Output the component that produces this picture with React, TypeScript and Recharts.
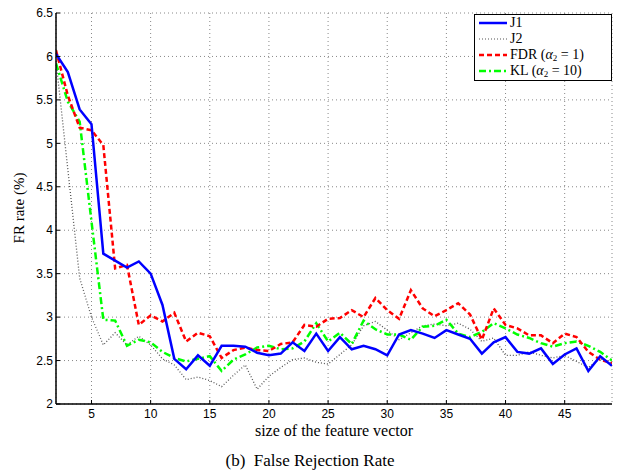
import { LineChart, Line, XAxis, YAxis, CartesianGrid } from 'recharts';

const featureSizes = [
  2, 3, 4, 5, 6, 7, 8, 9, 10, 11, 12, 13, 14, 15, 16, 17, 18, 19, 20, 21, 22, 23, 24, 25,
  26, 27, 28, 29, 30, 31, 32, 33, 34, 35, 36, 37, 38, 39, 40, 41, 42, 43, 44, 45, 46, 47, 48, 49,
];

const j1 = [
  6.03, 5.82, 5.39, 5.22, 3.73, 3.65, 3.57, 3.64, 3.5, 3.14, 2.52, 2.4, 2.56, 2.44, 2.67, 2.67,
  2.66, 2.59, 2.56, 2.58, 2.71, 2.61, 2.81, 2.61, 2.77, 2.63, 2.67, 2.63, 2.56, 2.8, 2.85, 2.81,
  2.76, 2.85, 2.8, 2.75, 2.58, 2.71, 2.77, 2.6, 2.58, 2.64, 2.46, 2.57, 2.64, 2.38, 2.55, 2.44,
];

const j2 = [
  5.95, 4.7, 3.45, 3.0, 2.68, 2.82, 2.68, 2.78, 2.68, 2.52, 2.45, 2.28, 2.31, 2.27, 2.2, 2.33,
  2.45, 2.17, 2.32, 2.42, 2.51, 2.53, 2.48, 2.46, 2.57, 2.68, 2.9, 2.95, 2.85, 2.74, 2.82, 2.9,
  2.92, 2.9, 2.93, 2.86, 2.72, 2.76, 2.56, 2.56, 2.6, 2.56, 2.53, 2.56, 2.49, 2.42, 2.52, 2.47,
];

const fdr = [
  6.07, 5.55, 5.18, 5.15, 4.98, 3.56, 3.6, 2.91, 3.02, 2.95, 3.05, 2.72, 2.82, 2.78, 2.53, 2.62,
  2.65, 2.62, 2.61, 2.69, 2.71, 2.91, 2.89, 2.98, 2.99, 3.08, 3.0, 3.22, 3.08, 2.98, 3.31, 3.1,
  3.01, 3.08, 3.16, 3.03, 2.74, 3.1, 2.91, 2.87, 2.79, 2.79, 2.7, 2.81, 2.77, 2.6, 2.51, 2.47,
];

const kl = [
  5.92, 5.48, 5.25, 4.1, 2.97, 2.96, 2.67, 2.74, 2.71, 2.6, 2.53, 2.49, 2.52, 2.55, 2.38, 2.51,
  2.57, 2.65, 2.67, 2.63, 2.64, 2.72, 2.93, 2.72, 2.82, 2.69, 2.96, 2.86, 2.8, 2.8, 2.74, 2.89,
  2.9, 2.97, 2.81, 2.77, 2.83, 2.93, 2.87, 2.8, 2.76, 2.7, 2.66, 2.7, 2.72, 2.67, 2.6, 2.5,
];

const xTicks = [5, 10, 15, 20, 25, 30, 35, 40, 45];
const yTicks = [2, 2.5, 3, 3.5, 4, 4.5, 5, 5.5, 6, 6.5];

const data = featureSizes.map((n, i) => ({ n, j1: j1[i], j2: j2[i], fdr: fdr[i], kl: kl[i] }));

const tickStyle = { fontFamily: 'Liberation Sans, Arial, sans-serif', fontSize: 12, fill: '#000' };
const serif = 'Liberation Serif, "Times New Roman", serif';

const Sub = ({ children }: { children: string }) => (
  <span style={{ fontSize: 9, lineHeight: '9px', display: 'inline-block', verticalAlign: 'bottom' }}>
    {children}
  </span>
);

const legendItems = [
  { key: 'j1', label: <>J1</>, color: '#0000ff', dash: undefined, width: 2.5 },
  { key: 'j2', label: <>J2</>, color: '#555', dash: '1 2', width: 1.2 },
  { key: 'fdr', label: <>FDR (<i>α</i><Sub>2</Sub> = 1)</>, color: '#ff0000', dash: '5 3', width: 2.5 },
  { key: 'kl', label: <>KL (<i>α</i><Sub>2</Sub> = 10)</>, color: '#00ff00', dash: '7 3 2 3', width: 2.5 },
];

// legend drawn as an overlay so the plot keeps its full width
const LegendBox = () => (
  <div
    style={{
      position: 'absolute',
      left: 474,
      top: 14,
      width: 136,
      border: '1px solid #000',
      background: '#fff',
      padding: '0 0 1px 0',
      fontFamily: serif,
      fontSize: 14,
      lineHeight: '16px',
    }}
  >
    {legendItems.map((it) => (
      <div key={it.key} style={{ display: 'flex', alignItems: 'center', height: 16 }}>
        <svg width={32} height={10} style={{ marginLeft: 3, flexShrink: 0 }}>
          <line x1={1} y1={5} x2={29} y2={5} stroke={it.color} strokeWidth={it.width} strokeDasharray={it.dash} />
        </svg>
        <span style={{ whiteSpace: 'nowrap' }}>{it.label}</span>
      </div>
    ))}
  </div>
);

export default function App() {
  return (
    <div style={{ position: 'absolute', left: 0, top: 0, width: 621, height: 476, background: '#fff' }}>
      <LineChart width={621} height={476} data={data} margin={{ top: 13, right: 9, bottom: 42, left: 0 }}>
        <CartesianGrid stroke="#888" strokeDasharray="1 3" />
        <XAxis
          dataKey="n"
          type="number"
          domain={[2, 49]}
          ticks={xTicks}
          allowDataOverflow
          height={30}
          tick={tickStyle}
          tickSize={-4}
          tickMargin={9}
          axisLine={{ stroke: '#000', strokeWidth: 1.5 }}
          tickLine={{ stroke: '#000' }}
        />
        <XAxis
          xAxisId="top"
          orientation="top"
          type="number"
          domain={[2, 49]}
          ticks={xTicks}
          height={0}
          tickSize={-4}
          tickFormatter={() => ''}
          axisLine={{ stroke: '#000', strokeWidth: 1.5 }}
          tickLine={{ stroke: '#000' }}
        />
        <YAxis
          type="number"
          domain={[2, 6.5]}
          ticks={yTicks}
          allowDataOverflow
          width={56}
          tick={tickStyle}
          tickSize={-4}
          tickMargin={7}
          axisLine={{ stroke: '#000', strokeWidth: 1.5 }}
          tickLine={{ stroke: '#000' }}
        />
        <YAxis
          yAxisId="right"
          orientation="right"
          type="number"
          domain={[2, 6.5]}
          ticks={yTicks}
          width={0}
          tickSize={-4}
          tickFormatter={() => ''}
          axisLine={{ stroke: '#000', strokeWidth: 1.5 }}
          tickLine={{ stroke: '#000' }}
        />
        <Line dataKey="j2" stroke="#555" strokeWidth={1.3} strokeDasharray="1 2" dot={false} isAnimationActive={false} />
        <Line dataKey="kl" stroke="#00ff00" strokeWidth={2.5} strokeDasharray="7 3 2 3" dot={false} isAnimationActive={false} />
        <Line dataKey="fdr" stroke="#ff0000" strokeWidth={2.5} strokeDasharray="5 3" dot={false} isAnimationActive={false} />
        <Line dataKey="j1" stroke="#0000ff" strokeWidth={2.5} dot={false} isAnimationActive={false} />
      </LineChart>
      <LegendBox />
      <div
        style={{
          position: 'absolute',
          left: 19,
          top: 208,
          transform: 'translate(-50%, -50%) rotate(-90deg)',
          fontFamily: serif,
          fontSize: 15,
          whiteSpace: 'nowrap',
        }}
      >
        FR rate (%)
      </div>
      <div
        style={{
          position: 'absolute',
          left: 334,
          top: 431,
          transform: 'translate(-50%, -50%)',
          fontFamily: serif,
          fontSize: 16,
          whiteSpace: 'nowrap',
        }}
      >
        size of the feature vector
      </div>
      <div
        style={{
          position: 'absolute',
          left: 310,
          top: 461,
          transform: 'translate(-50%, -50%)',
          fontFamily: serif,
          fontSize: 17,
          whiteSpace: 'nowrap',
        }}
      >
        (b)&nbsp; False Rejection Rate
      </div>
    </div>
  );
}
